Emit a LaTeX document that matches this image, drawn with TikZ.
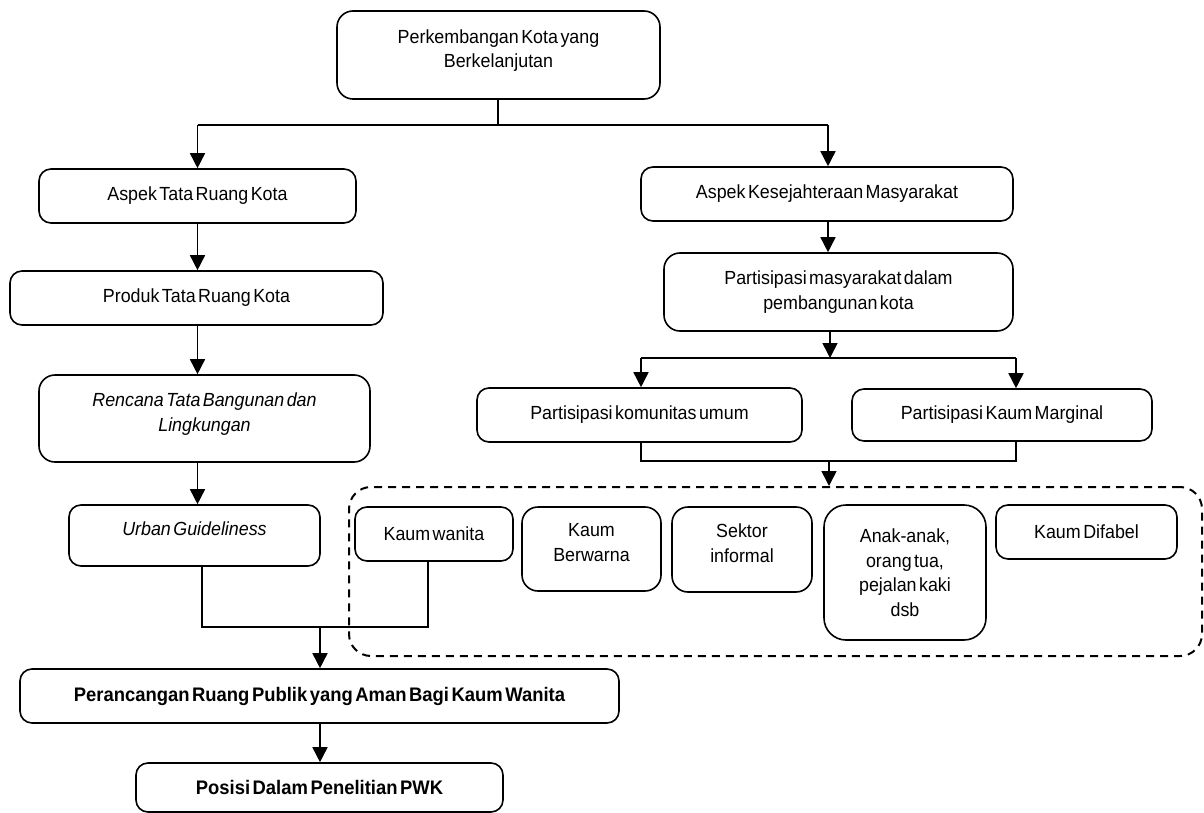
\documentclass[tikz,border=0pt]{standalone}
\usepackage{fontspec}
\setmainfont{Liberation Sans}[WordSpace=0.5,FakeStretch=0.94]
\usetikzlibrary{arrows.meta}
\newcommand\liftup{\rule[-13pt]{0pt}{1pt}}
\begin{document}
\begin{tikzpicture}[x=1pt,y=-1pt,
  box/.style={draw, line width=1.6pt, rounded corners=12pt, align=center, inner sep=0pt,
    font=\fontsize{19}{24.5}\selectfont},
  boldtxt/.style={font=\fontsize{19.6}{24.5}\selectfont\bfseries},
  bigr/.style={rounded corners=16pt},
  hugr/.style={rounded corners=22pt},
  ln/.style={line width=1.6pt},
  arr/.style={line width=1.6pt, -{Triangle[length=15pt,width=15pt]}},
  grp/.style={draw, line width=2pt, dash pattern=on 8pt off 6pt, rounded corners=22pt},
]
\useasboundingbox (0,0) rectangle (1204,813);

% column guides
\coordinate (cL) at (197.5,0);
\coordinate (cR) at (828,0);

% left column
\node[box, bigr, minimum width=323pt, minimum height=88pt] (top) at (498.5,55) {Perkembangan Kota yang\\Berkelanjutan\liftup};
\node[box, minimum width=317pt, minimum height=54pt] (asp1) at (197.5,196) {Aspek Tata Ruang Kota};
\node[box, minimum width=373pt, minimum height=54pt] (prod) at (196.5,298) {Produk Tata Ruang Kota};
\node[box, bigr, minimum width=331pt, minimum height=87pt] (renc) at (204.5,418.5) {\itshape Rencana Tata Bangunan dan\\\itshape Lingkungan\liftup};
\node[box, minimum width=251pt, minimum height=61pt] (urban) at (194.5,535.5) {\itshape Urban Guideliness\liftup};
\node[box, boldtxt, minimum width=599pt, minimum height=54pt] (peran) at (319.5,696) {Perancangan Ruang Publik yang Aman Bagi Kaum Wanita};
\node[box, boldtxt, minimum width=367pt, minimum height=49pt] (posisi) at (319.5,787.5) {Posisi Dalam Penelitian PWK};

% right column
\node[box, minimum width=372pt, minimum height=54pt] (asp2) at (827,194) {Aspek Kesejahteraan Masyarakat};
\node[box, bigr, minimum width=349pt, minimum height=78pt] (pm) at (838.5,292) {Partisipasi masyarakat dalam\\pembangunan kota};
\node[box, minimum width=325pt, minimum height=54pt] (pku) at (639.5,415) {Partisipasi komunitas umum};
\node[box, minimum width=300pt, minimum height=52pt] (pkm) at (1002,415) {Partisipasi Kaum Marginal};

% group
\node[grp, minimum width=853pt, minimum height=169pt, inner sep=0pt] (grp) at (775.5,571.5) {};
\node[box, minimum width=158pt, minimum height=54pt] (kw) at (434,534) {Kaum wanita};
\node[box, bigr, minimum width=139pt, minimum height=84pt] (kb) at (591.5,549) {Kaum\\Berwarna\liftup};
\node[box, bigr, minimum width=140pt, minimum height=85pt] (si) at (742,549.5) {Sektor\\informal\liftup};
\node[box, hugr, minimum width=162pt, minimum height=135pt] (aa) at (905,572.5) {Anak-anak,\\orang tua,\\pejalan kaki\\dsb};
\node[box, minimum width=181pt, minimum height=54pt] (kd) at (1086.5,532) {Kaum Difabel};

% connectors top
\coordinate (j1) at (498,125);
\coordinate (tL) at (197.5,125);
\coordinate (tR) at (828,125);
\draw[ln] (top.south -| j1) -- (j1);
\draw[ln] (tL) -- (tR);
\draw[arr] (tL) -- (asp1.north -| cL);
\draw[arr] (tR) -- (asp2.north -| cR);

% left chain
\draw[arr] (asp1.south -| cL) -- (prod.north -| cL);
\draw[arr] (prod.south -| cL) -- (renc.north -| cL);
\draw[arr] (renc.south -| cL) -- (urban.north -| cL);

% merge urban + kaum wanita
\coordinate (m1) at (202,627);
\coordinate (m2) at (428,627);
\coordinate (m3) at (320,627);
\draw[ln] (urban.south -| m1) -- (m1) -- (m2) -- (kw.south -| m2);
\draw[arr] (m3) -- (peran.north -| m3);
\draw[arr] (peran.south -| m3) -- (posisi.north -| m3);

% right chain
\draw[arr] (asp2.south -| cR) -- (pm.north -| cR);
\coordinate (j2) at (830,358);
\draw[arr] (pm.south -| j2) -- (j2);
\coordinate (bL) at (641,358);
\coordinate (bR) at (1016,358);
\draw[ln] (bL) -- (bR);
\draw[arr] (bL) -- (pku.north -| bL);
\draw[arr] (bR) -- (pkm.north -| bR);

% merge into group
\coordinate (n1) at (641,461);
\coordinate (n2) at (1016,461);
\coordinate (n3) at (829,461);
\draw[ln] (pku.south -| n1) -- (n1) -- (n2) -- (pkm.south -| n2);
\draw[arr] (n3) -- (grp.north -| n3);
\end{tikzpicture}
\end{document}
